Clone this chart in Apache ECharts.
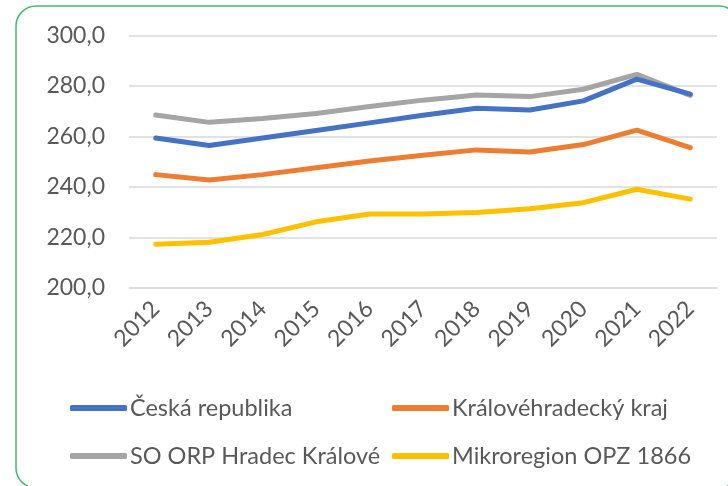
<!DOCTYPE html>
<html><head><meta charset="utf-8">
<script src="https://cdn.jsdelivr.net/npm/echarts@6/dist/echarts.min.js"></script>
<style>html,body{margin:0;padding:0;background:#fff}#c{width:728px;height:486px}</style>
</head><body><div id="c"></div>
<script>
const categories = ['2012','2013','2014','2015','2016','2017','2018','2019','2020','2021','2022'];
const seriesNames = ['Česká republika','Královéhradecký kraj','SO ORP Hradec Králové','Mikroregion OPZ 1866'];
const ceskaRepublika = [259.4, 256.4, 259.4, 262.4, 265.4, 268.4, 271.2, 270.5, 274.1, 282.7, 276.8];
const kralovehradeckyKraj = [244.9, 242.8, 244.9, 247.6, 250.3, 252.6, 254.7, 253.9, 256.8, 262.5, 255.6];
const soOrpHK = [268.5, 265.6, 267.1, 269.1, 271.9, 274.4, 276.4, 275.8, 278.7, 284.6, 276.3];
const mikroregion = [217.3, 218.1, 221.2, 226.2, 229.3, 229.3, 229.9, 231.4, 233.8, 239.1, 235.2];
const yTicks = {min: 200, max: 300, interval: 20};

const colors = ['#4472C4','#ED7D31','#A5A5A5','#FFC000'];
const values = [ceskaRepublika, kralovehradeckyKraj, soOrpHK, mikroregion];
const FONT = 'Lato';
const txt = '#595959';

const legendPos = [[70,396],[392,396],[70,444],[392,444]];
const chart = echarts.init(document.getElementById('c'), null, {renderer:'canvas'});
chart.setOption({
  animation:false,
  color: colors,
  grid:{left:129, right:11, top:35.5, bottom:198, containLabel:false},
  xAxis:{type:'category', data:categories, boundaryGap:true,
    axisLine:{show:true, lineStyle:{color:'#D9D9D9', width:1.5}},
    axisTick:{show:false},
    axisLabel:{rotate:45, color:txt, fontSize:23, fontFamily:FONT, margin:17, interval:0}},
  yAxis:{type:'value', min:yTicks.min, max:yTicks.max, interval:yTicks.interval,
    axisLine:{show:false}, axisTick:{show:false},
    splitLine:{lineStyle:{color:'#D9D9D9', width:1.5}},
    axisLabel:{color:txt, fontSize:23, fontFamily:FONT, margin:24,
      formatter: v => v.toFixed(1).replace('.', ',')}},
  legend: seriesNames.map((n,i)=>({
    data:[{name:n, icon:'roundRect'}], left:legendPos[i][0], top:legendPos[i][1],
    itemWidth:57, itemHeight:6, itemGap:0, padding:0,
    textStyle:{color:txt, fontSize:23.5, fontFamily:FONT, padding:[0,0,0,-2]}
  })),
  series: seriesNames.map((n,i)=>({
    name:n, type:'line', data:values[i], symbol:'none', smooth:false,
    lineStyle:{width:5, color:colors[i], cap:'round', join:'round'}, z: i===2?2:3
  })),
  graphic:[{type:'rect', shape:{x:16, y:6, width:723, height:482, r:20},
    style:{fill:'none', stroke:'#3DBE6E', lineWidth:1.5}, silent:true}]
});
</script></body></html>
